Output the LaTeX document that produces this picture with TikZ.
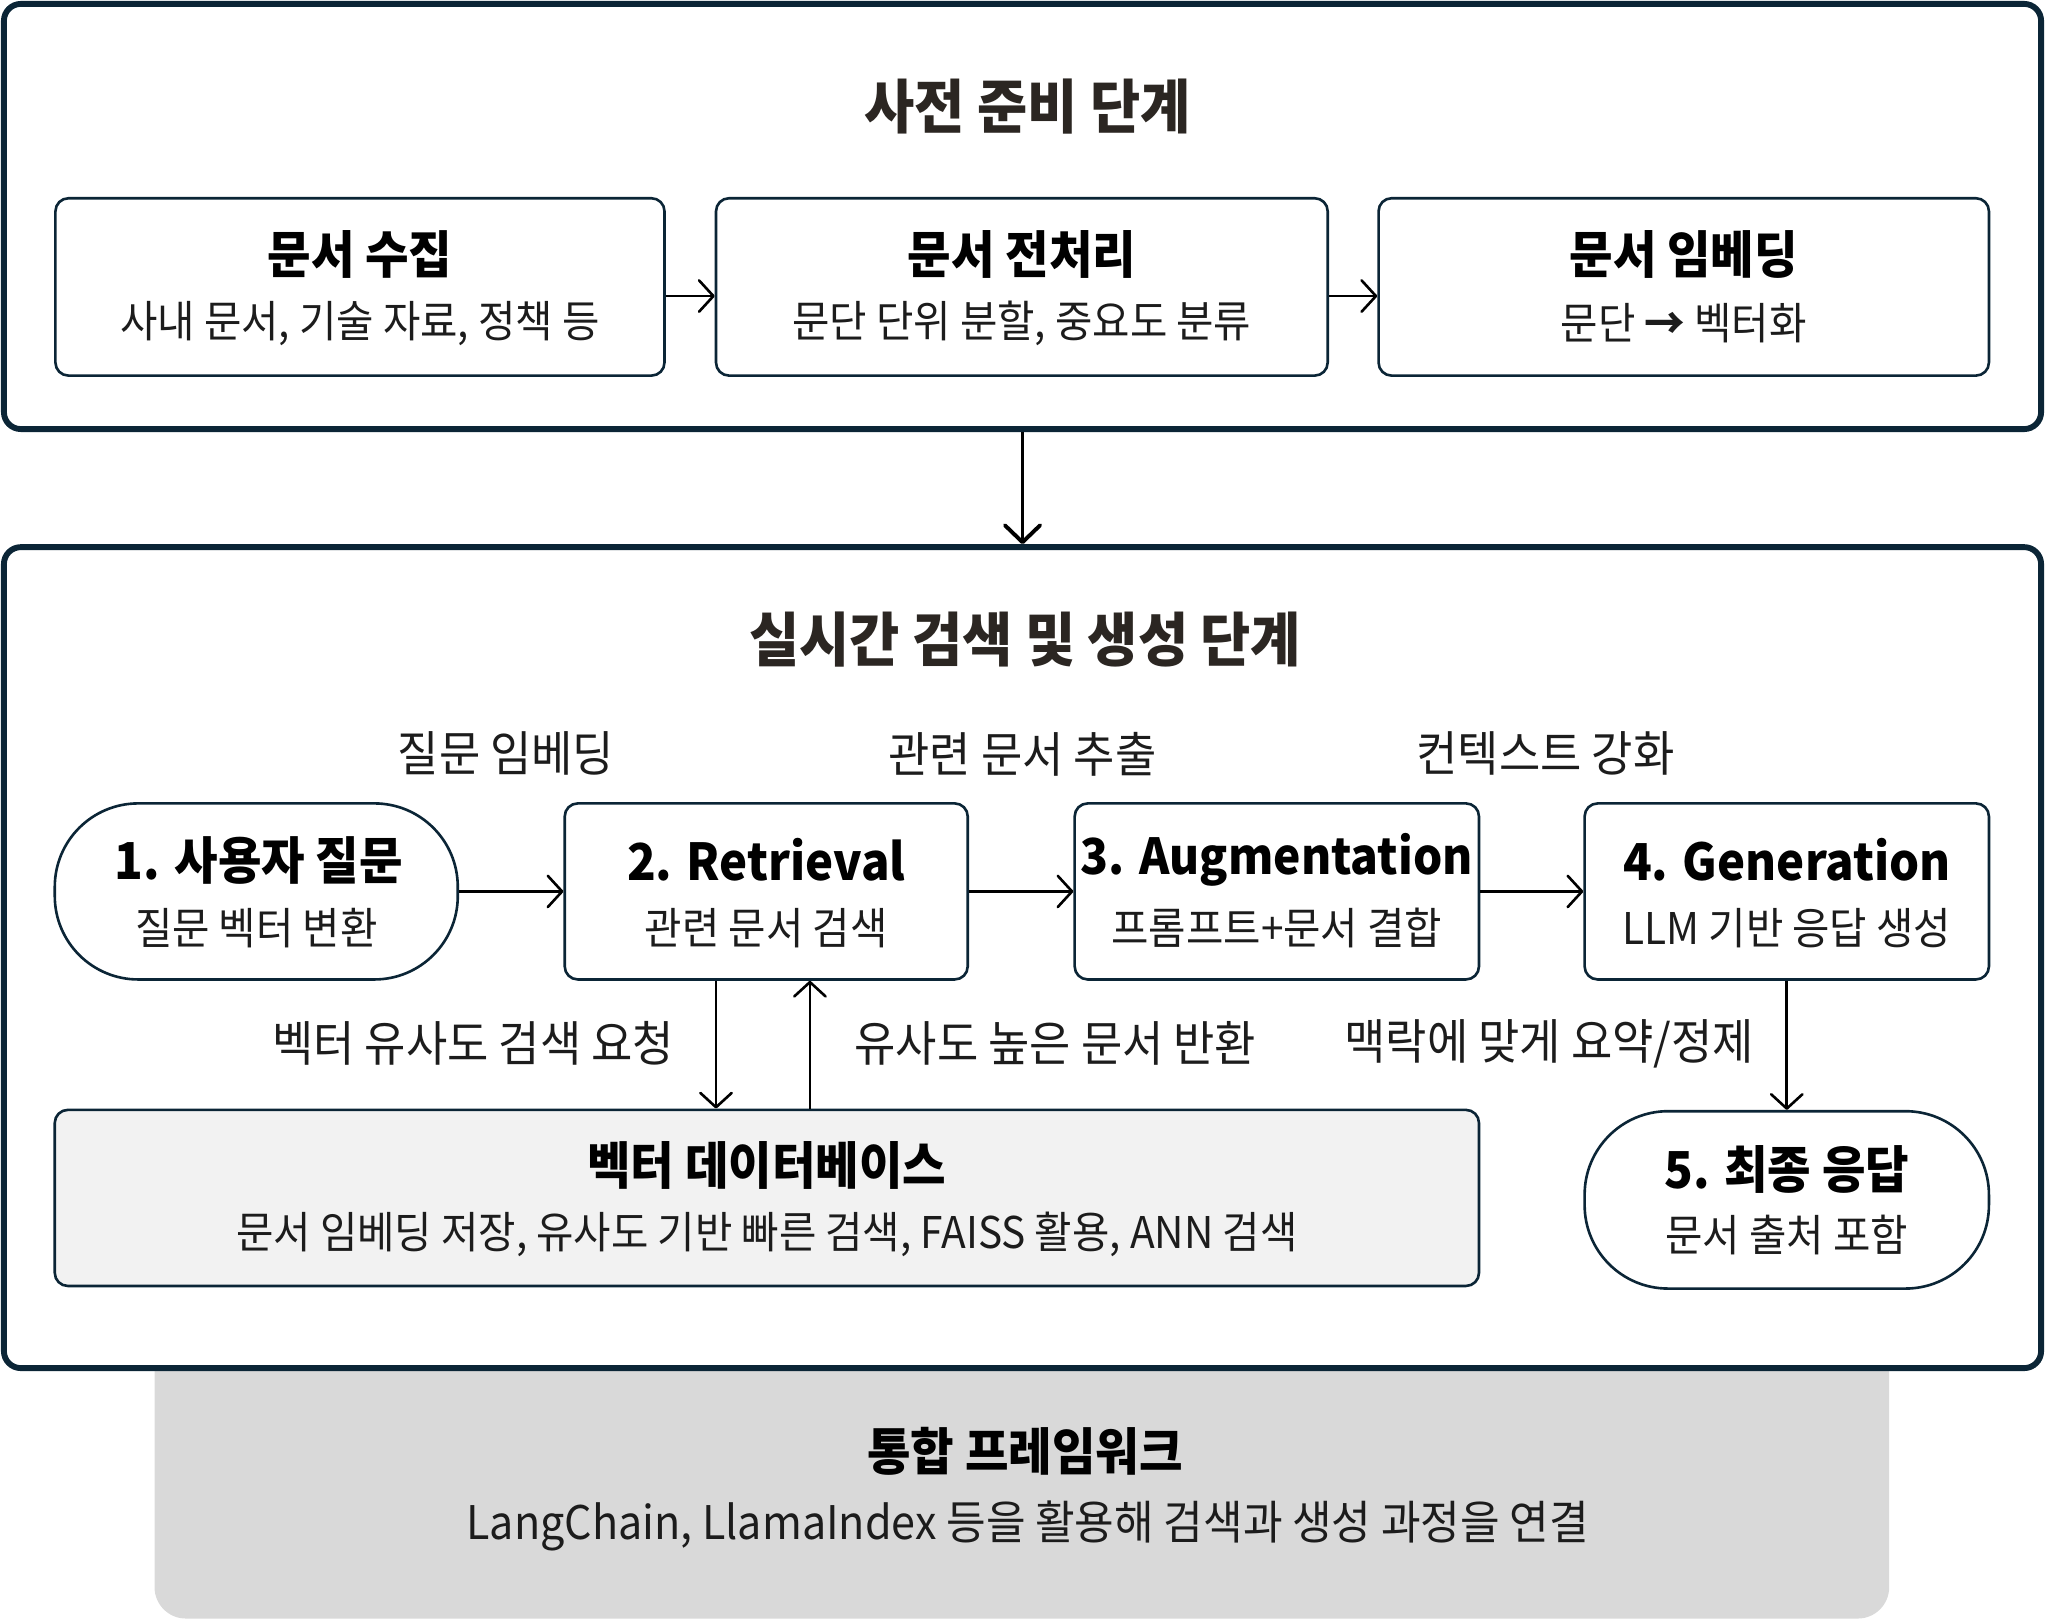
\documentclass[tikz,border=0pt]{standalone}
\usepackage{fontspec}
\setmainfont{Noto Sans CJK KR}[FakeStretch=0.93]
\usetikzlibrary{arrows.meta,calc}
\definecolor{navy}{HTML}{0B2536}
\definecolor{stagecol}{HTML}{2B2622}
\definecolor{txt}{HTML}{1C1C1C}
\definecolor{dbfill}{HTML}{F2F2F2}
\definecolor{fwfill}{HTML}{D9D9D9}
\begin{document}
\begin{tikzpicture}[x=1pt,y=-1pt,
  stage/.style={draw=navy, line width=4.5pt, rounded corners=13pt, fill=white, inner sep=0pt, minimum width=1562pt},
  stepbox/.style={draw=navy, line width=2pt, rounded corners=10pt, fill=white, inner sep=0pt, minimum height=136pt},
  pill/.style={stepbox, rounded corners=64pt},
  fwbox/.style={fill=fwfill, rounded corners=24pt, inner sep=0pt},
  ttl/.style={font=\fontsize{45}{52}\selectfont\bfseries, text=stagecol, inner sep=0pt},
  hd/.style={font=\fontsize{39}{46}\selectfont\bfseries, text=black, inner sep=0pt},
  sb/.style={font=\fontsize{33.5}{40}\selectfont, text=txt, inner sep=0pt},
  lb/.style={font=\fontsize{37}{44}\selectfont, text=txt, inner sep=0pt},
  arr/.style={draw=black, line width=2pt, -{Straight Barb[length=11pt,width=24pt,round]}},
  bigarr/.style={draw=black, line width=3pt, -{Straight Barb[length=13pt,width=27pt,round]}}
]
\useasboundingbox (0,0) rectangle (1568,1241);

% framework box (behind stage 2)
\node[fwbox, minimum width=1330pt, minimum height=260pt] (fw) at (783.5,1111) {};
\node[hd] (fwt) at (786,1113) {통합 프레임워크};
\node[sb, font=\fontsize{35.5}{42}\selectfont] (fws) at (788,1170) {LangChain, LlamaIndex 등을 활용해 검색과 생성 과정을 연결};

% stage 1
\node[stage, minimum height=326pt] (s1) at (784,166) {};
\node[ttl] (s1t) at (788,82) {사전 준비 단계};

\node[stepbox, minimum width=467pt] (b1) at (276,220) {};
\node[hd] (b1t) at ($(b1)+(0,-25)$) {문서 수집};
\node[sb] (b1s) at ($(b1)+(0,28)$) {사내 문서, 기술 자료, 정책 등};

\node[stepbox, minimum width=469pt] (b2) at (783.5,220) {};
\node[hd] (b2t) at ($(b2)+(0,-25)$) {문서 전처리};
\node[sb] (b2s) at ($(b2)+(0,28)$) {문단 단위 분할, 중요도 분류};

\node[stepbox, minimum width=468pt] (b3) at (1291,220) {};
\node[hd] (b3t) at ($(b3)+(0,-25)$) {문서 임베딩};
\node[sb] (b3s) at ($(b3)+(0,28)$) {문단 {\bfseries →} 벡터화};

\draw[arr] ([yshift=-7pt]b1.east) -- ([yshift=-7pt]b2.west);
\draw[arr] ([yshift=-7pt]b2.east) -- ([yshift=-7pt]b3.west);

% stage 2
\node[stage, minimum height=629.5pt] (s2) at (784,734.25) {};
\node[ttl] (s2t) at (786,490) {실시간 검색 및 생성 단계};

\draw[bigarr] (s1.south) -- (s2.north);

\node[pill, minimum width=309pt, minimum height=135pt] (n1) at (196.5,683.5) {};
\node[hd] (n1t) at ($(n1)+(2,-24)$) {1. 사용자 질문};
\node[sb] (n1s) at ($(n1)+(0,28)$) {질문 벡터 변환};

\node[stepbox, minimum width=309pt, minimum height=135pt] (n2) at (587.5,683.5) {};
\node[hd] (n2t) at ($(n2)+(0,-24)$) {2. Retrieval};
\node[sb] (n2s) at ($(n2)+(0,28)$) {관련 문서 검색};

\node[stepbox, minimum width=310pt, minimum height=135pt] (n3) at (979,683.5) {};
\node[hd, font=\fontsize{38}{45}\selectfont\bfseries] (n3t) at ($(n3)+(0,-24)$) {3. Augmentation};
\node[sb] (n3s) at ($(n3)+(0,28)$) {프롬프트+문서 결합};

\node[stepbox, minimum width=310pt, minimum height=135pt] (n4) at (1370,683.5) {};
\node[hd] (n4t) at ($(n4)+(0,-24)$) {4. Generation};
\node[sb] (n4s) at ($(n4)+(0,28)$) {LLM 기반 응답 생성};

\node[stepbox, fill=dbfill, minimum width=1092pt, minimum height=135pt] (db) at (588,918.5) {};
\node[hd] (dbt) at ($(db)+(0,-25)$) {벡터 데이터베이스};
\node[sb] (dbs) at ($(db)+(0,28)$) {문서 임베딩 저장, 유사도 기반 빠른 검색, FAISS 활용, ANN 검색};

\node[pill, minimum width=310pt, minimum height=136pt] (n5) at (1370,920) {};
\node[hd] (n5t) at ($(n5)+(0,-23)$) {5. 최종 응답};
\node[sb] (n5s) at ($(n5)+(0,27)$) {문서 출처 포함};

% connectors
\draw[arr] (n1.east) -- (n2.west);
\draw[arr] (n2.east) -- (n3.west);
\draw[arr] (n3.east) -- (n4.west);
\draw[arr] ([xshift=-38.5pt]n2.south) -- ([xshift=-38.5pt]n2.south |- db.north);
\draw[arr] ([xshift=33.5pt]n2.south |- db.north) -- ([xshift=33.5pt]n2.south);
\draw[arr] (n4.south) -- (n5.north);

% labels
\node[lb] (l1) at (388,578) {질문 임베딩};
\node[lb] (l2) at (784,578) {관련 문서 추출};
\node[lb] (l3) at (1185,578) {컨텍스트 강화};
\node[lb, anchor=east] (l4) at (517,800) {벡터 유사도 검색 요청};
\node[lb, anchor=west] (l5) at (655,800) {유사도 높은 문서 반환};
\node[lb, anchor=east] (l6) at (1345,800) {맥락에 맞게 요약/정제};
\end{tikzpicture}
\end{document}
